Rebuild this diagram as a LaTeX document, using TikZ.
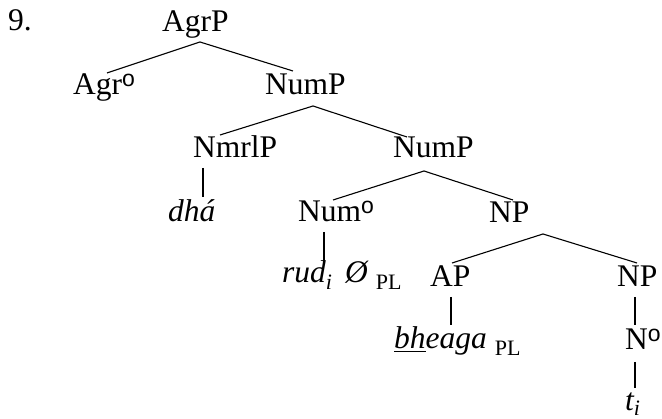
\documentclass[tikz,border=0pt]{standalone}
\usepackage{fontspec}
\setmainfont{Liberation Serif}
\newfontfamily\supfont{Liberation Sans}
\usetikzlibrary{calc}
% raised "o" marking a head, and a lowered small index or feature
\newcommand\hd{\raisebox{8.5pt}{\supfont\fontsize{23}{23}\selectfont o}}
\newcommand\lw[1]{\raisebox{-6.5pt}{\fontsize{22}{22}\selectfont #1}}
\begin{document}
\begin{tikzpicture}[x=1pt,y=1pt,
  lab/.style={anchor=base west,inner sep=0pt,font=\fontsize{31.5}{31.5}\selectfont},
  branch/.style={line width=1.1pt}]
\useasboundingbox (0,0) rectangle (662,419);
% labels
\node[lab] (nine)   at (8,388)   {9.};
\node[lab] (agrp)   at (162,387) {AgrP};
\node[lab] (agr)    at (73,324)  {Agr\hd};
\node[lab] (nump1)  at (265,324) {NumP};
\node[lab] (nmrlp)  at (193,261) {NmrlP};
\node[lab] (nump2)  at (393,261) {NumP};
\node[lab] (dha)    at (168,197) {\itshape dhá};
\node[lab] (num)    at (298,197) {Num\hd};
\node[lab] (np1)    at (489,196) {NP};
\node[lab] (rud)    at (282,136) {\itshape rud\lw{\itshape i}\, Ø \lw{\upshape PL}};
\node[lab] (ap)     at (430,132) {AP};
\node[lab] (np2)    at (617,132) {NP};
\node[lab] (bheaga) at (394,70)  {\itshape\underline{bh}eaga \lw{\upshape PL}};
\node[lab] (n0)     at (625,69)  {N\hd};
\node[lab] (ti)     at (625,8)   {\itshape t\raisebox{-4.5pt}{\fontsize{22}{22}\selectfont i}};
% branches
\draw[branch] ([shift={(34,22)}]agr.base west) -- ([shift={(38,-10)}]agrp.base west) -- ([shift={(28,24)}]nump1.base west);
\draw[branch] ([shift={(27,23)}]nmrlp.base west) -- ([shift={(48,-11)}]nump1.base west) -- ([shift={(14,21)}]nump2.base west);
\draw[branch] ([shift={(35,22)}]num.base west) -- ([shift={(31,-13)}]nump2.base west) -- ([shift={(24,23)}]np1.base west);
\draw[branch] ([shift={(22,24)}]ap.base west) -- ([shift={(54,-11)}]np1.base west) -- ([shift={(20,24)}]np2.base west);
\draw[branch] ([shift={(10,-10)}]nmrlp.base west) -- ([shift={(35,25)}]dha.base west);
\draw[branch] ([shift={(26,-10)}]num.base west) -- ([shift={(42,21)}]rud.base west);
\draw[branch] ([shift={(21,-10)}]ap.base west) -- ([shift={(57,24)}]bheaga.base west);
\draw[branch] ([shift={(18,-10)}]np2.base west) -- ([shift={(10,25)}]n0.base west);
\draw[branch] ([shift={(10,-12)}]n0.base west) -- ([shift={(10,23)}]ti.base west);
\end{tikzpicture}
\end{document}
